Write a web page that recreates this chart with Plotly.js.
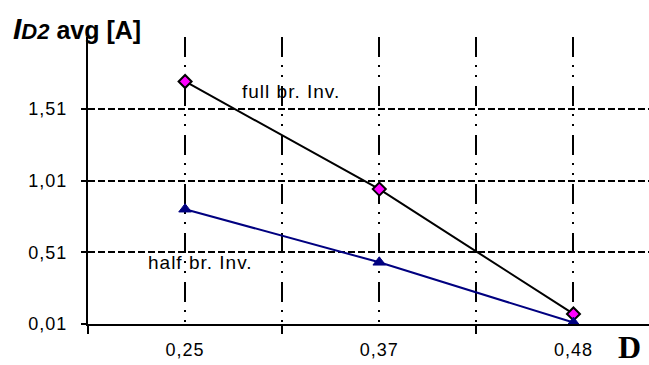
<!DOCTYPE html>
<html>
<head>
<meta charset="utf-8">
<script src="https://cdn.plot.ly/plotly-3.0.1.min.js"></script>
<style>html,body{margin:0;padding:0;background:#fff;}#chart{width:649px;height:365px;}</style>
</head>
<body>
<div id="chart"></div>
<script>
const categories = ['0,25', '0,37', '0,48'];
const fullBr = [1.70, 0.95, 0.08];
const halfBr = [0.81, 0.44, 0.02];
const yTickVals = [0.01, 0.51, 1.01, 1.51];
const yTickText = ['0,01', '0,51', '1,01', '1,51'];
const seriesNames = ['full br. Inv.', 'half br. Inv.'];

const xIdx = categories.map((c, i) => i);
const spaced = s => '<span style="letter-spacing:1px">' + s + '</span>';
const tickFont = {family: 'Liberation Sans, Arial, sans-serif', size: 18, color: '#000'};
const vDash = '20px,8px,2px,8px,2px,9px';

const traces = [
  {
    x: xIdx, y: fullBr, name: seriesNames[0], type: 'scatter', mode: 'lines+markers',
    line: {color: '#000000', width: 2},
    marker: {symbol: 'diamond', size: 10, color: '#FF00FF', line: {color: '#000', width: 2}}
  },
  {
    x: xIdx, y: halfBr, name: seriesNames[1], type: 'scatter', mode: 'lines+markers',
    line: {color: '#000080', width: 2},
    marker: {symbol: 'triangle-up', size: 11, color: '#000080', line: {color: '#000080', width: 1}}
  }
];

const layout = {
  width: 649, height: 365,
  margin: {l: 88, r: 0, t: 37, b: 41, pad: 0},
  paper_bgcolor: '#fff', plot_bgcolor: '#fff',
  showlegend: false,
  font: tickFont,
  xaxis: {
    type: 'linear', range: [-0.5, 2.389], fixedrange: true,
    tickmode: 'array', tickvals: xIdx, ticktext: categories.map(spaced),
    ticks: '', ticklabelstandoff: 8,
    showgrid: true, gridcolor: '#000', gridwidth: 2, griddash: vDash,
    minor: {tick0: 0.5, dtick: 1, ticks: 'outside', ticklen: 8, tickwidth: 2, tickcolor: '#000',
            showgrid: true, gridcolor: '#000', gridwidth: 2, griddash: vDash},
    showline: true, linecolor: '#000', linewidth: 2, zeroline: false,
    tickfont: tickFont
  },
  yaxis: {
    range: [0.01, 2.01], fixedrange: true,
    tickmode: 'array', tickvals: yTickVals, ticktext: yTickText.map(spaced),
    ticks: 'outside', ticklen: 5, tickwidth: 2, tickcolor: '#000', ticklabelstandoff: 10,
    showgrid: true, gridcolor: '#000', gridwidth: 2, griddash: '7px,3px',
    showline: true, linecolor: '#000', linewidth: 2, zeroline: false,
    tickfont: tickFont
  },
  annotations: [
    {text: '<b><i>I</i></b><b><i><span style="font-size:22px">D2</span></i></b><b><span style="font-size:25px"> avg [A]</span></b>',
     xref: 'paper', yref: 'paper', x: -0.138, y: 1.095, xanchor: 'left', yanchor: 'top',
     showarrow: false, font: {family: 'Liberation Sans, Arial, sans-serif', size: 30, color: '#000'}},
    {text: spaced(seriesNames[0]), xref: 'x', yref: 'y', x: 0.546, y: 1.63, showarrow: false,
     xanchor: 'center', yanchor: 'middle', font: {family: 'Liberation Sans, Arial, sans-serif', size: 19, color: '#000'}},
    {text: spaced(seriesNames[1]), xref: 'x', yref: 'y', x: 0.08, y: 0.44, showarrow: false,
     xanchor: 'center', yanchor: 'middle', font: {family: 'Liberation Sans, Arial, sans-serif', size: 19, color: '#000'}},
    {text: '<b>D</b>', xref: 'paper', yref: 'paper', x: 0.966, y: -0.08, showarrow: false,
     xanchor: 'center', yanchor: 'middle', borderpad: 0, font: {family: 'Liberation Serif, Times New Roman, serif', size: 32, color: '#000'}}
  ]
};

Plotly.newPlot('chart', traces, layout, {staticPlot: true, displayModeBar: false});
</script>
</body>
</html>
